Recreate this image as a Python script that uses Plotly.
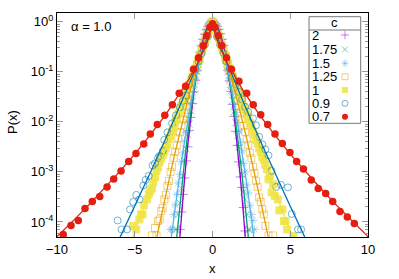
import plotly.graph_objects as go

# ---------------- data (log10 of P(x)) ----------------
c_labels = ["2", "1.75", "1.5", "1.25", "1", "0.9", "0.7"]

x_c2 = [-2.1,-2.0,-1.9,-1.8,-1.7,-1.6,-1.5,-1.4,-1.3,-1.2,-1.1,-1.0,-0.9,-0.8,-0.7,-0.6,-0.5,-0.4,-0.3,-0.2,-0.1,
        0.0,0.1,0.2,0.3,0.4,0.5,0.6,0.7,0.8,0.9,1.0,1.1,1.2,1.3,1.4,1.5,1.6,1.7,1.8,1.9,2.0,2.1]
lp_c2 = [-4.15,-3.80,-3.45,-3.12,-2.78,-2.50,-2.17,-1.91,-1.63,-1.40,-1.17,-0.97,-0.79,-0.62,-0.48,-0.35,-0.25,-0.16,-0.09,-0.04,-0.01,
         0.0,-0.01,-0.04,-0.09,-0.15,-0.24,-0.35,-0.47,-0.63,-0.78,-0.97,-1.18,-1.39,-1.65,-1.89,-2.19,-2.47,-2.80,-3.10,-3.31,-3.71,-4.18]

x_c175 = [-2.4,-2.3,-2.2,-2.1,-2.0,-1.9,-1.8,-1.7,-1.6,-1.5,-1.4,-1.3,-1.2,-1.1,-1.0,-0.9,-0.8,-0.7,-0.6,-0.5,-0.4,-0.3,-0.2,-0.1,
          0.0,0.1,0.2,0.3,0.4,0.5,0.6,0.7,0.8,0.9,1.0,1.1,1.2,1.3,1.4,1.5,1.6,1.7,1.8,1.9,2.0,2.1,2.2,2.3,2.4]
lp_c175 = [-4.15,-4.15,-3.85,-3.62,-3.33,-3.08,-2.77,-2.54,-2.25,-2.04,-1.78,-1.59,-1.36,-1.18,-0.99,-0.83,-0.67,-0.53,-0.41,-0.30,-0.20,-0.12,-0.06,-0.02,
           0.0,-0.02,-0.06,-0.12,-0.21,-0.29,-0.41,-0.53,-0.68,-0.83,-1.00,-1.17,-1.38,-1.57,-1.80,-2.02,-2.28,-2.51,-2.80,-3.05,-3.40,-3.55,-3.85,-4.15,-4.15]

x_c15 = [-2.7,-2.6,-2.5,-2.4,-2.3,-2.2,-2.1,-2.0,-1.9,-1.8,-1.7,-1.6,-1.5,-1.4,-1.3,-1.2,-1.1,-1.0,-0.9,-0.8,-0.7,-0.6,-0.5,-0.4,-0.3,-0.2,-0.1,
         0.0,0.1,0.2,0.3,0.4,0.5,0.6,0.7,0.8,0.9,1.0,1.1,1.2,1.3,1.4,1.5,1.6,1.7,1.8,1.9,2.0,2.1,2.2,2.3,2.4,2.5,2.6,2.7]
lp_c15 = [-4.15,-4.15,-3.85,-3.66,-3.45,-3.22,-3.05,-2.80,-2.62,-2.38,-2.21,-2.00,-1.83,-1.63,-1.48,-1.30,-1.15,-0.99,-0.85,-0.71,-0.58,-0.46,-0.35,-0.25,-0.16,-0.09,-0.03,
          0.0,-0.03,-0.09,-0.17,-0.25,-0.35,-0.47,-0.58,-0.72,-0.84,-1.00,-1.14,-1.31,-1.46,-1.65,-1.81,-2.02,-2.18,-2.41,-2.58,-2.83,-3.00,-3.26,-3.42,-3.67,-3.85,-3.97,-4.15]

x_c125 = [-3.9,-3.7,-3.6,-3.5,-3.4,-3.3,-3.2,-3.1,-3.0,-2.9,-2.8,-2.7,-2.6,-2.5,-2.4,-2.3,-2.2,-2.1,-2.0,-1.9,-1.8,-1.7,-1.6,-1.5,-1.4,-1.3,-1.2,-1.1,-1.0,-0.9,-0.8,-0.7,-0.6,-0.5,-0.4,-0.3,-0.2,-0.1,
          0.0,0.1,0.2,0.3,0.4,0.5,0.6,0.7,0.8,0.9,1.0,1.1,1.2,1.3,1.4,1.5,1.6,1.7,1.8,1.9,2.0,2.1,2.2,2.3,2.4,2.5,2.6,2.7,2.8,2.9,3.0,3.1,3.2,3.3,3.4,3.6,3.9]
lp_c125 = [-4.27,-4.12,-4.27,-3.98,-3.95,-3.78,-3.72,-3.55,-3.46,-3.28,-3.18,-3.00,-2.90,-2.72,-2.60,-2.47,-2.33,-2.21,-2.07,-1.95,-1.82,-1.69,-1.57,-1.45,-1.33,-1.21,-1.10,-0.98,-0.87,-0.77,-0.66,-0.56,-0.46,-0.37,-0.28,-0.19,-0.12,-0.05,
           0.0,-0.05,-0.12,-0.20,-0.28,-0.36,-0.46,-0.56,-0.66,-0.77,-0.88,-0.98,-1.10,-1.22,-1.33,-1.45,-1.58,-1.69,-1.83,-1.94,-2.08,-2.20,-2.35,-2.46,-2.62,-2.73,-2.90,-3.02,-3.18,-3.30,-3.51,-3.60,-3.75,-3.85,-4.08,-4.27,-4.27]

x_c1 = [-5.1,-4.9,-4.7,-4.6,-4.5,-4.4,-4.2,-4.1,-4.0,-3.9,-3.8,-3.7,-3.6,-3.5,-3.4,-3.3,-3.2,-3.1,-3.0,-2.9,-2.8,-2.7,-2.6,-2.5,-2.4,-2.3,-2.2,-2.1,-2.0,-1.9,-1.8,-1.7,-1.6,-1.5,-1.4,-1.3,-1.2,-1.1,-1.0,-0.9,-0.8,-0.7,-0.6,-0.5,-0.4,-0.3,-0.2,-0.1,
        0.0,0.1,0.2,0.3,0.4,0.5,0.6,0.7,0.8,0.9,1.0,1.1,1.2,1.3,1.4,1.5,1.6,1.7,1.8,1.9,2.0,2.1,2.2,2.3,2.4,2.5,2.6,2.7,2.8,2.9,3.0,3.1,3.2,3.3,3.4,3.5,
        3.6,3.7,3.8,3.9,4.0,4.2,4.3,4.5,4.6,4.7,4.8,5.2]
lp_c1 = [-4.08,-4.15,-3.95,-3.85,-3.85,-3.67,-3.55,-3.45,-3.38,-3.33,-3.21,-3.10,-2.98,-2.91,-2.80,-2.73,-2.66,-2.60,-2.52,-2.45,-2.33,-2.28,-2.18,-2.12,-2.00,-1.94,-1.84,-1.77,-1.67,-1.60,-1.51,-1.42,-1.35,-1.26,-1.17,-1.10,-1.00,-0.93,-0.84,-0.75,-0.67,-0.59,-0.50,-0.42,-0.34,-0.25,-0.17,-0.08,
         0.0,-0.09,-0.17,-0.25,-0.33,-0.42,-0.51,-0.58,-0.67,-0.76,-0.83,-0.93,-1.01,-1.09,-1.18,-1.25,-1.35,-1.42,-1.52,-1.59,-1.69,-1.76,-1.85,-1.92,-2.02,-2.09,-2.19,-2.26,-2.36,-2.43,-2.53,-2.60,-2.70,-2.76,-2.86,-2.95,
         -3.15,-3.08,-3.41,-3.25,-3.48,-3.55,-3.77,-3.75,-3.98,-3.98,-4.15,-4.28]

x_c09 = [-6.1,-5.85,-5.5,-5.3,-5.1,-4.9,-4.7,-4.45,-4.3,-4.1,-3.85,-3.7,-3.5,-3.4,-3.2,-3.1,-2.9,-2.6,-2.35,-2.1,-1.9,-1.7,-1.5,-1.3,-1.1,-0.9,-0.7,-0.5,-0.3,-0.1,
         0.1,0.3,0.5,0.7,0.9,1.1,1.3,1.5,1.7,1.9,2.1,2.3,2.6,2.8,3.0,3.2,3.4,3.6,3.8,4.1,4.4,4.85,5.1,5.5,5.7]
lp_c09 = [-3.97,-4.15,-4.15,-3.75,-3.60,-3.46,-3.55,-3.27,-3.16,-3.08,-2.87,-2.83,-2.72,-2.68,-2.58,-2.36,-2.21,-2.03,-1.87,-1.71,-1.58,-1.47,-1.25,-1.10,-0.95,-0.79,-0.63,-0.46,-0.29,-0.11,
          -0.10,-0.30,-0.46,-0.62,-0.79,-0.94,-1.09,-1.25,-1.40,-1.55,-1.70,-1.80,-1.93,-2.07,-2.30,-2.45,-2.55,-2.67,-2.98,-3.30,-3.26,-3.31,-3.84,-4.15,-4.15]

x_c07 = [-9.6,-9.1,-8.63,-8.2,-7.73,-7.25,-6.78,-6.35,-5.88,-5.39,-4.92,-4.42,-4.0,-3.55,-3.07,-2.58,-2.14,-1.73,-1.22,-0.9,-0.6,-0.37,-0.16,
         0.0,0.16,0.37,0.6,0.9,1.22,1.70,2.2,2.62,3.10,3.55,4.02,4.49,4.98,5.41,5.85,6.35,6.80,7.28,7.73,8.20,8.67,9.12]
lp_c07 = [-4.25,-4.07,-3.97,-3.73,-3.59,-3.49,-3.30,-3.14,-2.98,-2.79,-2.63,-2.44,-2.24,-2.05,-1.87,-1.66,-1.43,-1.29,-0.95,-0.72,-0.48,-0.28,-0.11,
          -0.04,-0.11,-0.28,-0.48,-0.72,-0.95,-1.19,-1.43,-1.66,-1.86,-2.05,-2.24,-2.43,-2.61,-2.79,-2.94,-3.16,-3.33,-3.43,-3.59,-3.79,-3.90,-4.03]

# fitted curves (log10 P)
fx_c2 = [-2.2,-2.0,-1.8,-1.6,-1.4,-1.2,-1.0,-0.8,-0.6,-0.4,-0.2,0.0,0.2,0.4,0.6,0.8,1.0,1.2,1.4,1.6,1.8,2.0,2.2]
fl_c2 = [-4.697,-3.882,-3.144,-2.484,-1.902,-1.398,-0.971,-0.621,-0.349,-0.155,-0.039,0.0,-0.039,-0.155,-0.349,-0.621,-0.971,-1.398,-1.902,-2.484,-3.144,-3.882,-4.697]
fx_c175 = [-2.4,-2.2,-2.0,-1.8,-1.6,-1.4,-1.2,-1.0,-0.8,-0.6,-0.4,-0.2,0.0,0.2,0.4,0.6,0.8,1.0,1.2,1.4,1.6,1.8,2.0,2.2,2.4]
fl_c175 = [-4.61,-3.959,-3.351,-2.787,-2.268,-1.795,-1.371,-0.996,-0.675,-0.407,-0.200,-0.060,0.0,-0.060,-0.200,-0.407,-0.675,-0.996,-1.371,-1.795,-2.268,-2.787,-3.351,-3.959,-4.61]
fx_c15 = [-2.8,-2.6,-2.4,-2.2,-2.0,-1.8,-1.6,-1.4,-1.2,-1.0,-0.8,-0.6,-0.4,-0.2,0.0,0.2,0.4,0.6,0.8,1.0,1.2,1.4,1.6,1.8,2.0,2.2,2.4,2.6,2.8]
fl_c15 = [-4.648,-4.159,-3.689,-3.237,-2.806,-2.396,-2.008,-1.644,-1.304,-0.992,-0.710,-0.461,-0.251,-0.089,0.0,-0.089,-0.251,-0.461,-0.710,-0.992,-1.304,-1.644,-2.008,-2.396,-2.806,-3.237,-3.689,-4.159,-4.648]
fx_c125 = [-3.8,-3.6,-3.4,-3.2,-3.0,-2.8,-2.6,-2.4,-2.2,-2.0,-1.8,-1.6,-1.4,-1.2,-1.0,-0.8,-0.6,-0.4,-0.2,0.0,0.2,0.4,0.6,0.8,1.0,1.2,1.4,1.6,1.8,2.0,2.2,2.4,2.6,2.8,3.0,3.2,3.4,3.6,3.8]
fl_c125 = [-4.627,-4.325,-4.027,-3.733,-3.443,-3.159,-2.880,-2.606,-2.337,-2.074,-1.819,-1.570,-1.328,-1.095,-0.872,-0.660,-0.460,-0.277,-0.117,0.0,
           -0.117,-0.277,-0.460,-0.660,-0.872,-1.095,-1.328,-1.570,-1.819,-2.074,-2.337,-2.606,-2.880,-3.159,-3.443,-3.733,-4.027,-4.325,-4.627]
fx_c1 = [-5.4,0.0,5.4]
fl_c1 = [-4.532,0.0,-4.532]
fx_c09 = [-6.2,-6.0,-5.0,-4.0,-3.0,-2.0,-1.6,-1.0,-0.6,-0.2,-0.05,0.0,0.05,0.2,0.6,1.0,1.6,2.0,3.0,4.0,5.0,6.0,6.2]
fl_c09 = [-4.475,-4.345,-3.688,-3.017,-2.329,-1.617,-1.323,-0.866,-0.547,-0.204,-0.058,0.0,-0.058,-0.204,-0.547,-0.866,-1.323,-1.617,-2.329,-3.017,-3.688,-4.345,-4.475]
fx_c07 = [-10.2,-10.0,-9.0,-8.0,-7.0,-6.0,-5.0,-4.0,-3.0,-2.0,-1.5,-1.0,-0.5,-0.25,-0.1,-0.05,-0.02,0.0,
          0.02,0.05,0.1,0.25,0.5,1.0,1.5,2.0,3.0,4.0,5.0,6.0,7.0,8.0,9.0,10.0,10.2]
fl_c07 = [-4.355,-4.295,-3.989,-3.674,-3.346,-3.004,-2.644,-2.261,-1.849,-1.392,-1.138,-0.857,-0.527,-0.325,-0.171,-0.105,-0.055,0.0,
          -0.055,-0.105,-0.171,-0.325,-0.527,-0.857,-1.138,-1.392,-1.849,-2.261,-2.644,-3.004,-3.346,-3.674,-3.989,-4.295,-4.355]

y_tickvals = [1e-4, 1e-3, 1e-2, 1e-1, 1]
y_ticktext = ["10<sup>-4</sup>", "10<sup>-3</sup>", "10<sup>-2</sup>", "10<sup>-1</sup>", "10<sup>0</sup>"]
y_minor = [6e-5, 7e-5, 8e-5, 9e-5,
           2e-4, 3e-4, 4e-4, 5e-4, 6e-4, 7e-4, 8e-4, 9e-4,
           2e-3, 3e-3, 4e-3, 5e-3, 6e-3, 7e-3, 8e-3, 9e-3,
           2e-2, 3e-2, 4e-2, 5e-2, 6e-2, 7e-2, 8e-2, 9e-2,
           0.2, 0.3, 0.4, 0.5, 0.6, 0.7, 0.8, 0.9]
x_tickvals = [-10, -5, 0, 5, 10]

# ---------------- styling ----------------
FONT = "Liberation Sans, Arial, sans-serif"
W, H = 399, 279
L, R, T, B = 57, 31, 13, 42
PW, PH = W - L - R, H - T - B


def px(xp):
    return (xp - L) / PW


def py(yp):
    return 1 - (yp - T) / PH


def P(lst):
    return [10 ** v for v in lst]


series = [
    (x_c2, lp_c2, fx_c2, fl_c2, "#9400D3", "cross-thin-open", 0.5),
    (x_c175, lp_c175, fx_c175, fl_c175, "#009E73", "x-thin-open", 0.5),
    (x_c15, lp_c15, fx_c15, fl_c15, "#56B4E9", "asterisk-open", 0.55),
    (x_c125, lp_c125, fx_c125, fl_c125, "#E69F00", "square-open", 0.5),
    (x_c1, lp_c1, fx_c1, fl_c1, "#F0E442", "square", 0.85),
    (x_c09, lp_c09, fx_c09, fl_c09, "#0072B2", "circle-open", 0.55),
    (x_c07, lp_c07, fx_c07, fl_c07, "#E51E10", "circle", 1.0),
]

fig = go.Figure()

for xs, ls, fxs, fls, col, sym, op in series[:-1]:
    fig.add_trace(go.Scatter(x=xs, y=P(ls), mode="markers", showlegend=False,
                             marker=dict(symbol=sym, size=7, color=col, opacity=op,
                                         line=dict(width=1, color=col))))
for xs, ls, fxs, fls, col, sym, op in series:
    fig.add_trace(go.Scatter(x=fxs, y=P(fls), mode="lines", showlegend=False,
                             line=dict(color=col, width=1.3)))
xs, ls, fxs, fls, col, sym, op = series[-1]
fig.add_trace(go.Scatter(x=xs, y=P(ls), mode="markers", showlegend=False,
                         marker=dict(symbol=sym, size=7.5, color=col, line=dict(width=0))))

# manual gnuplot-style key
row_y = [35, 49.5, 63.3, 76.7, 90, 103.3, 116.7]
for (xs, ls, fxs, fls, col, sym, op), ry in zip(series, row_y):
    fig.add_trace(go.Scatter(x=[px(345)], y=[py(ry)], xaxis="x2", yaxis="y2", mode="markers",
                             showlegend=False, hoverinfo="skip",
                             marker=dict(symbol=sym, size=6, color=col, opacity=op,
                                         line=dict(width=1 if "open" in sym else 0, color=col))))

annotations = []
for lab, ry in zip(c_labels, row_y):
    annotations.append(dict(text=lab, x=px(309.5), y=py(ry), xref="paper", yref="paper",
                            xanchor="left", yanchor="middle", showarrow=False,
                            font=dict(family=FONT, size=13, color="black")))
annotations.append(dict(text="c", x=px(334.5), y=py(23), xref="paper", yref="paper",
                        xanchor="center", yanchor="middle", showarrow=False,
                        font=dict(family=FONT, size=13, color="black")))
annotations.append(dict(text="α = 1.0", x=px(69), y=py(26.5), xref="paper", yref="paper",
                        xanchor="left", yanchor="middle", showarrow=False,
                        font=dict(family=FONT, size=13, color="black")))
annotations.append(dict(text="x", x=0.5, y=py(268), xref="paper", yref="paper",
                        xanchor="center", yanchor="middle", showarrow=False,
                        font=dict(family=FONT, size=13, color="black")))
annotations.append(dict(text="P(x)", x=px(13), y=py(122), xref="paper", yref="paper",
                        xanchor="center", yanchor="middle", showarrow=False, textangle=-90,
                        font=dict(family=FONT, size=13, color="black")))

shapes = [
    dict(type="rect", xref="paper", yref="paper", x0=px(309), x1=px(360.7), y0=py(123.3), y1=py(16.7),
         line=dict(color="#777777", width=1), fillcolor="rgba(0,0,0,0)", layer="above"),
    dict(type="line", xref="paper", yref="paper", x0=px(309), x1=px(360.7), y0=py(30), y1=py(30),
         line=dict(color="#777777", width=1), layer="above"),
]

fig.update_layout(
    width=W, height=H, autosize=False,
    margin=dict(l=L, r=R, t=T, b=B, pad=0),
    paper_bgcolor="white", plot_bgcolor="white",
    font=dict(family=FONT, size=13, color="black"),
    xaxis=dict(range=[-10, 10], tickmode="array", tickvals=x_tickvals, automargin=False,
               ticks="inside", ticklen=6, tickcolor="#999999", tickwidth=1,
               showline=True, linecolor="black", linewidth=1, mirror="ticks",
               showgrid=False, zeroline=False, tickfont=dict(family=FONT, size=13)),
    yaxis=dict(type="log", range=[-4.30103, 0.176091], tickmode="array", automargin=False,
               tickvals=y_tickvals, ticktext=y_ticktext,
               ticks="inside", ticklen=6, tickcolor="#999999", tickwidth=1,
               showline=True, linecolor="black", linewidth=1, mirror="ticks",
               showgrid=False, zeroline=False, tickfont=dict(family=FONT, size=13),
               minor=dict(tickmode="array", tickvals=y_minor, ticks="inside", ticklen=3,
                          tickcolor="#999999", showgrid=False)),
    xaxis2=dict(overlaying="x", range=[0, 1], visible=False, anchor="y"),
    yaxis2=dict(overlaying="y", range=[0, 1], visible=False, anchor="x"),
    annotations=annotations,
    shapes=shapes,
    showlegend=False,
)

fig.write_html("out.html",
               config={"displayModeBar": False, "staticPlot": True},
               post_script="document.body.style.margin='0px';document.body.style.padding='0px';"
                           "document.documentElement.style.overflow='hidden';")
